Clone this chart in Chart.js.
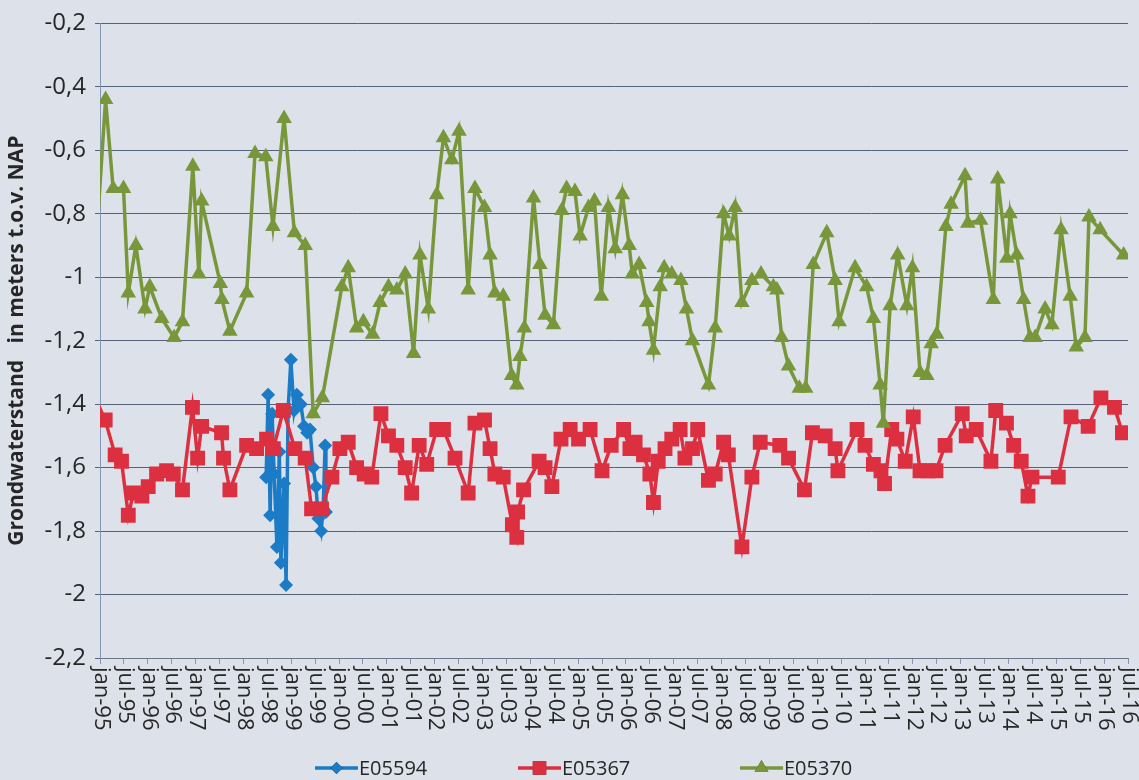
<!DOCTYPE html>
<html>
<head>
<meta charset="utf-8">
<script src="https://cdn.jsdelivr.net/npm/chart.js@4.4.1/dist/chart.umd.min.js"></script>
<style>
  html, body { margin: 0; padding: 0; background: #dde2ea; }
  canvas { display: block; }
</style>
</head>
<body>
<canvas id="c" width="1139" height="780"></canvas>
<script>
// x values: months since jan-1995
const axisStartMonth = 0;     // jan-95
const axisEndMonth = 258;     // jul-16
const monthNames = ['jan', 'jul'];

const seriesNames = ['E05594', 'E05367', 'E05370'];

// E05594 (blue)
const e05594Months = [41.7, 42.2, 42.7, 43.2, 43.7, 44.4, 45.0, 45.4, 46.2, 46.7, 47.2, 47.9, 48.7, 49.4, 50.4, 51.2, 52.0, 52.7, 53.5, 54.2, 54.8, 55.5, 56.0, 56.5, 56.7];
const e05594Values = [-1.63, -1.37, -1.75, -1.43, -1.62, -1.85, -1.55, -1.90, -1.65, -1.97, -1.42, -1.26, -1.42, -1.37, -1.40, -1.47, -1.49, -1.48, -1.60, -1.66, -1.76, -1.80, -1.73, -1.53, -1.74];

// E05367 (red)
const e05367Months = [-0.5, 1.3, 3.8, 5.4, 7.1, 8.4, 10.5, 12.1, 14.2, 16.7, 18.4, 20.7, 23.2, 24.5, 25.5, 30.5, 31.0, 32.6, 36.8, 39.3, 41.8, 43.5, 46.0, 48.9, 51.5, 53.1, 55.6, 58.2, 60.2, 62.3, 64.4, 66.3, 68.2, 70.5, 72.4, 74.5, 76.6, 78.2, 80.1, 82.0, 84.5, 86.2, 89.1, 92.4, 94.1, 96.5, 97.9, 99.1, 101.2, 103.5, 104.6, 104.8, 106.3, 110.2, 111.7, 113.4, 115.7, 118.0, 120.1, 123.0, 126.0, 128.3, 131.4, 133.0, 134.3, 136.4, 138.0, 138.9, 140.1, 141.8, 143.5, 145.6, 146.8, 148.7, 150.0, 152.7, 154.4, 156.5, 157.7, 161.1, 163.6, 165.7, 170.6, 172.8, 176.8, 178.8, 182.0, 184.5, 185.2, 190.0, 192.0, 194.1, 196.0, 196.9, 198.7, 200.0, 202.1, 204.1, 205.8, 207.9, 209.8, 212.1, 216.4, 217.4, 219.9, 223.6, 224.8, 227.5, 229.3, 231.2, 232.9, 233.9, 240.5, 243.7, 248.0, 251.2, 254.6, 256.6];
const e05367Values = [-1.40, -1.45, -1.56, -1.58, -1.75, -1.68, -1.69, -1.66, -1.62, -1.61, -1.62, -1.67, -1.41, -1.57, -1.47, -1.49, -1.57, -1.67, -1.53, -1.54, -1.51, -1.54, -1.42, -1.54, -1.57, -1.73, -1.73, -1.63, -1.54, -1.52, -1.60, -1.62, -1.63, -1.43, -1.50, -1.53, -1.60, -1.68, -1.53, -1.59, -1.48, -1.48, -1.57, -1.68, -1.46, -1.45, -1.54, -1.62, -1.63, -1.78, -1.82, -1.74, -1.67, -1.58, -1.60, -1.66, -1.51, -1.48, -1.51, -1.48, -1.61, -1.53, -1.48, -1.54, -1.52, -1.56, -1.62, -1.71, -1.58, -1.54, -1.51, -1.48, -1.57, -1.54, -1.48, -1.64, -1.62, -1.52, -1.56, -1.85, -1.63, -1.52, -1.53, -1.57, -1.67, -1.49, -1.50, -1.54, -1.61, -1.48, -1.53, -1.59, -1.61, -1.65, -1.48, -1.51, -1.58, -1.44, -1.61, -1.61, -1.61, -1.53, -1.43, -1.50, -1.48, -1.58, -1.42, -1.46, -1.53, -1.58, -1.69, -1.63, -1.63, -1.44, -1.47, -1.38, -1.41, -1.49];

// E05370 (green)
const e05370Months = [-1.0, 1.4, 3.3, 5.9, 7.1, 9.0, 11.3, 12.5, 15.5, 18.6, 20.7, 23.3, 24.8, 25.5, 30.2, 30.6, 32.6, 36.8, 38.9, 41.6, 43.4, 46.2, 48.8, 51.5, 53.5, 55.8, 60.7, 62.3, 64.4, 66.1, 68.4, 70.3, 72.4, 74.5, 76.6, 78.7, 80.3, 82.4, 84.5, 86.2, 88.3, 90.1, 92.4, 94.1, 96.5, 97.9, 99.1, 101.2, 103.3, 104.6, 105.4, 106.5, 108.8, 110.4, 111.7, 113.8, 115.9, 117.1, 119.2, 120.5, 122.6, 124.1, 125.8, 127.6, 129.3, 131.1, 132.8, 133.6, 135.3, 137.2, 137.8, 138.9, 140.6, 141.6, 143.5, 145.8, 147.2, 148.7, 152.7, 154.4, 156.5, 157.9, 159.4, 161.1, 163.6, 165.9, 169.0, 169.9, 171.1, 172.8, 175.5, 177.1, 179.0, 182.4, 184.5, 185.5, 189.5, 192.4, 194.1, 195.8, 196.6, 198.3, 200.2, 202.5, 203.9, 205.8, 207.5, 208.6, 210.0, 212.3, 213.6, 217.1, 217.8, 221.0, 224.2, 225.3, 227.6, 228.4, 230.1, 231.8, 233.4, 234.7, 237.2, 238.9, 241.2, 243.5, 245.0, 247.2, 248.2, 251.0, 256.9];
const e05370Values = [-0.90, -0.44, -0.72, -0.72, -1.05, -0.90, -1.10, -1.03, -1.13, -1.19, -1.14, -0.65, -0.99, -0.76, -1.02, -1.07, -1.17, -1.05, -0.61, -0.62, -0.84, -0.50, -0.86, -0.90, -1.43, -1.38, -1.03, -0.97, -1.16, -1.14, -1.18, -1.08, -1.03, -1.04, -0.99, -1.24, -0.93, -1.10, -0.74, -0.56, -0.63, -0.54, -1.04, -0.72, -0.78, -0.93, -1.05, -1.06, -1.31, -1.34, -1.25, -1.16, -0.75, -0.96, -1.12, -1.15, -0.79, -0.72, -0.73, -0.87, -0.78, -0.76, -1.06, -0.78, -0.91, -0.74, -0.90, -0.99, -0.96, -1.08, -1.14, -1.23, -1.03, -0.97, -0.99, -1.01, -1.10, -1.20, -1.34, -1.16, -0.80, -0.87, -0.78, -1.08, -1.01, -0.99, -1.03, -1.04, -1.19, -1.28, -1.35, -1.35, -0.96, -0.86, -1.01, -1.14, -0.97, -1.03, -1.13, -1.34, -1.46, -1.09, -0.93, -1.09, -0.97, -1.30, -1.31, -1.21, -1.18, -0.84, -0.77, -0.68, -0.83, -0.82, -1.07, -0.69, -0.94, -0.80, -0.93, -1.07, -1.19, -1.19, -1.10, -1.15, -0.85, -1.06, -1.22, -1.19, -0.81, -0.85, -0.93];

const yMin = -2.2, yMax = -0.2, yStep = 0.2;
const yTitle = 'Grondwaterstand   in meters t.o.v. NAP';

const colors = { E05594: '#1b7bc6', E05367: '#dc3040', E05370: '#78973a' };
const styles = { E05594: { pointStyle: 'rectRot', radius: 7 }, E05367: { pointStyle: 'rect', radius: 10.5 }, E05370: { pointStyle: 'triangle', radius: 9 } };
const drawOrder = { E05594: 2, E05367: 1, E05370: 0 }; // green on top, blue at the bottom

const FONT = '"Open Sans", "DejaVu Sans", sans-serif';
const TEXT = '#262626';

function toPoints(ms, vs) { return ms.map((m, i) => ({ x: m, y: vs[i] })); }
function monthLabel(m) {
  const year = 1995 + Math.floor(m / 12);
  const mon = monthNames[Math.round((m % 12) / 6)];
  return mon + '-' + String(year % 100).padStart(2, '0');
}

const seriesData = {
  E05594: toPoints(e05594Months, e05594Values),
  E05367: toPoints(e05367Months, e05367Values),
  E05370: toPoints(e05370Months, e05370Values)
};

const datasets = seriesNames.map(name => ({
  label: name,
  data: seriesData[name],
  order: drawOrder[name],
  borderColor: colors[name],
  backgroundColor: colors[name],
  borderWidth: 3.5,
  pointStyle: styles[name].pointStyle,
  pointRadius: c => (c.raw && c.raw.x < axisStartMonth) ? 0 : styles[name].radius,
  pointBorderWidth: 0,
  pointBackgroundColor: colors[name],
  pointBorderColor: colors[name],
  tension: 0,
  fill: false
}));

const xLabelPlugin = {
  id: 'xLabels',
  afterDraw(chart) {
    const s = chart.scales.x, ctx = chart.ctx;
    ctx.save();
    ctx.font = '22px ' + FONT;
    ctx.fillStyle = TEXT;
    ctx.textAlign = 'left';
    ctx.textBaseline = 'middle';
    s.ticks.forEach(t => {
      const px = s.getPixelForValue(t.value);
      ctx.save();
      ctx.translate(px + 1, s.top + 9);
      ctx.rotate(Math.PI / 2);
      ctx.fillText(monthLabel(t.value), 0, 0);
      ctx.restore();
    });
    ctx.restore();
  }
};

const legendPlugin = {
  id: 'customLegend',
  afterDraw(chart) {
    const ctx = chart.ctx;
    const y = 768;
    const starts = [315, 518, 740];
    ctx.save();
    ctx.font = '20px ' + FONT;
    ctx.textBaseline = 'middle';
    ctx.textAlign = 'left';
    seriesNames.forEach((name, i) => {
      const x0 = starts[i], x1 = x0 + 43;
      ctx.strokeStyle = colors[name];
      ctx.lineWidth = 3.5;
      ctx.beginPath(); ctx.moveTo(x0, y); ctx.lineTo(x1, y); ctx.stroke();
      Chart.helpers.drawPoint(ctx, { pointStyle: styles[name].pointStyle, radius: styles[name].radius - 1, rotation: 0, borderWidth: 0 }, (x0 + x1) / 2, y);
      ctx.fillStyle = colors[name];
      ctx.fill();
      ctx.fillStyle = TEXT;
      ctx.fillText(name, x1 + 1, y + 1);
    });
    ctx.restore();
  }
};

new Chart(document.getElementById('c'), {
  type: 'line',
  data: { datasets },
  options: {
    responsive: false,
    animation: false,
    events: [],
    layout: { padding: { top: 20, right: 11, bottom: 32, left: 0 } },
    scales: {
      x: {
        type: 'linear',
        min: axisStartMonth,
        max: axisEndMonth,
        ticks: { stepSize: 6, display: false, autoSkip: false },
        grid: { drawOnChartArea: false, drawTicks: true, tickLength: 6, color: '#8396b6', lineWidth: 1 },
        border: { color: '#6d7686', width: 1 },
        afterFit(s) { s.height = 90; }
      },
      y: {
        min: yMin,
        max: yMax,
        ticks: {
          stepSize: yStep,
          padding: 9,
          color: TEXT,
          font: { family: FONT, size: 24 },
          callback: v => String(Math.round(v * 10) / 10).replace('.', ',')
        },
        grid: { color: '#56617a', lineWidth: 1, tickLength: 5 },
        border: { color: '#8396b6', width: 1 },
        title: {
          display: true,
          text: yTitle,
          color: TEXT,
          font: { family: FONT, size: 21, weight: 'bold' },
          padding: { top: 4, bottom: 0 }
        },
        afterFit(s) { s.width = 100; }
      }
    },
    plugins: { legend: { display: false }, tooltip: { enabled: false } }
  },
  plugins: [xLabelPlugin, legendPlugin]
});
</script>
</body>
</html>
